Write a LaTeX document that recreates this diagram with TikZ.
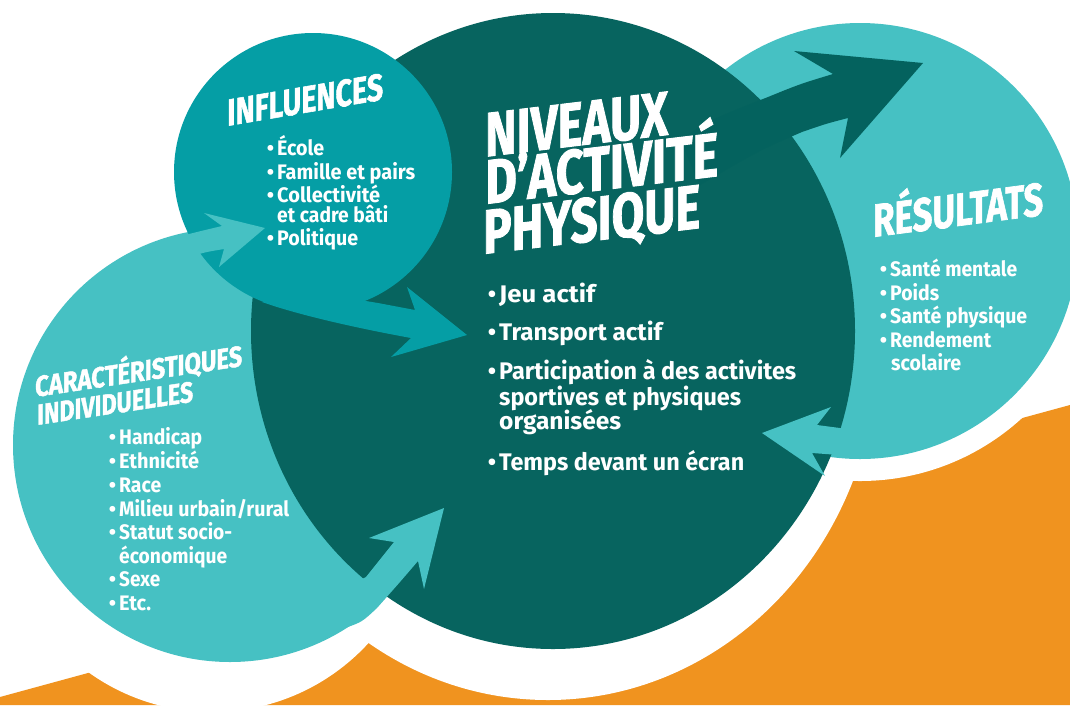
\documentclass[tikz,border=0pt]{standalone}
\usepackage{fontspec}
\usepackage{graphicx}
\setmainfont{Fira Sans}
\newfontfamily\bodyf{Fira Sans}[UprightFont=* Bold]
\newfontfamily\headf{Fira Sans}[UprightFont=* Bold, FakeBold=1.5]
\definecolor{orangebg}{HTML}{F0931F}
\definecolor{lightteal}{HTML}{46C1C3}
\definecolor{midteal}{HTML}{059EA5}
\definecolor{darkteal}{HTML}{07645F}
\definecolor{arrowdark}{HTML}{04625E}
\newcommand{\fitw}[2]{\resizebox{#1pt}{\height}{#2}}
\newcommand{\bul}{\makebox[0pt][r]{\textbullet\hspace{3pt}}}
\tikzset{
  hd/.style={anchor=base west, inner sep=0pt, text=white},
  sidetxt/.style={anchor=base west, inner sep=0pt, text=white, font=\bodyf\fontsize{21}{21}\selectfont},
  centxt/.style={anchor=base west, inner sep=0pt, text=white, font=\bodyf\fontsize{24}{24}\selectfont}
}
\begin{document}
\begin{tikzpicture}[x=1pt,y=-1pt]
\useasboundingbox (0,0) rectangle (1070,705);
\clip (0,0) rectangle (1070,705);
\fill[white] (0,0) rectangle (1070,705);
% orange ground
\fill[orangebg] (0,697) -- (1070,405) -- (1070,705) -- (0,705) -- cycle;
% white halos
\fill[white] (212,500) circle[radius=212pt];
\fill[white] (548,345) ellipse[x radius=330pt, y radius=355pt];
\fill[white] (860,241) circle[radius=240pt];
% circles
\fill[lightteal] (230,445) circle[radius=217pt];
\fill[lightteal] (860,241) circle[radius=218pt];
\fill[darkteal] (553,331) ellipse[x radius=302pt, y radius=318pt];
\fill[midteal] (313,172) circle[radius=139pt];
% arrow: individual -> influences
\fill[lightteal] (150,247) .. controls (180,236) .. (222,226) -- (204,213) -- (265,228) -- (219,267) -- (224,249) .. controls (200,253) .. (180,262) -- cycle;
% arrow: influences -> activity
\fill[midteal] (300,290) -- (378,303) -- (415,310) -- (407,287) -- (467,335) -- (391,357) -- (411,338) .. controls (340,325) and (290,312) .. (262,302) -- cycle;
% arrow: individual -> activity
\fill[lightteal] (320,600) -- (366,577) -- (394,542) -- (369,538) -- (444,508) -- (424,589) -- (418,561) .. controls (400,582) .. (377,608) .. controls (362,622) .. (345,628) -- cycle;
% arrow: activity -> results
\fill[arrowdark] (680,140) .. controls (710,120) .. (768,97) .. controls (800,84) .. (833,74) -- (794,51) -- (923,63) -- (840,158) -- (848,118) .. controls (825,124) .. (802,132) .. controls (760,150) .. (700,185) -- cycle;
% arrow: results -> activity
\fill[lightteal] (905,430) .. controls (880,428) .. (855,430) -- (817,425) -- (831,407) -- (762,433) -- (825,476) -- (812,453) .. controls (840,455) and (870,458) .. (905,453) -- cycle;

% titles
\node[hd, font=\headf\fontsize{37.7}{38}\selectfont, yslant=0.17] (inftitle) at (227,126) {\fitw{156}{INFLUENCES}};
\node[hd, font=\headf\fontsize{62.4}{62}\selectfont, yslant=0.12] (niv1) at (485,156.7) {\fitw{183}{NIVEAUX}};
\node[hd, font=\headf\fontsize{62.4}{62}\selectfont, yslant=0.12] (niv2) at (485,204) {\fitw{233}{D’ACTIVITÉ}};
\node[hd, font=\headf\fontsize{62.4}{62}\selectfont, yslant=0.12] (niv3) at (483,254) {\fitw{217}{PHYSIQUE}};
\node[hd, font=\headf\fontsize{29}{29}\selectfont, yslant=0.15] (car1) at (35,397) {\fitw{207}{CARACTÉRISTIQUES}};
\node[hd, font=\headf\fontsize{29}{29}\selectfont, yslant=0.15] (car2) at (37,425) {\fitw{156}{INDIVIDUELLES}};
\node[hd, font=\headf\fontsize{46.4}{46}\selectfont, yslant=0.13] (restitle) at (873,237) {\fitw{170}{RÉSULTATS}};

% influences list
\node[sidetxt] (i1) at (277,155) {\bul\fitw{47}{École}};
\node[sidetxt] (i2) at (277,179) {\bul\fitw{138}{Famille et pairs}};
\node[sidetxt] (i3) at (277,202) {\bul\fitw{103}{Collectivité}};
\node[sidetxt] (i4) at (277,222) {\fitw{111}{et cadre bâti}};
\node[sidetxt] (i5) at (277,245) {\bul\fitw{81}{Politique}};

% individual list
\node[sidetxt] (c1) at (119,444.7) {\bul\fitw{83}{Handicap}};
\node[sidetxt] (c2) at (119,468.7) {\bul\fitw{80}{Ethnicité}};
\node[sidetxt] (c3) at (119,492.7) {\bul\fitw{42}{Race}};
\node[sidetxt] (c4) at (119,516) {\bul\fitw{170}{Milieu urbain/rural}};
\node[sidetxt] (c5) at (119,539) {\bul\fitw{113}{Statut socio-}};
\node[sidetxt] (c6) at (119,563) {\fitw{108}{économique}};
\node[sidetxt] (c7) at (119,586) {\bul\fitw{41}{Sexe}};
\node[sidetxt] (c8) at (119,610) {\bul\fitw{32}{Etc.}};

% results list
\node[sidetxt] (r1) at (890,276) {\bul\fitw{127}{Santé mentale}};
\node[sidetxt] (r2) at (890,300) {\bul\fitw{49}{Poids}};
\node[sidetxt] (r3) at (890,323) {\bul\fitw{137}{Santé physique}};
\node[sidetxt] (r4) at (890,347) {\bul\fitw{101}{Rendement}};
\node[sidetxt] (r5) at (891,370) {\fitw{70}{scolaire}};

% activity list
\node[centxt] (a1) at (499,302) {\bul\fitw{96}{Jeu actif}};
\node[centxt] (a2) at (499,340) {\bul\fitw{163}{Transport actif}};
\node[centxt] (a3) at (499,379) {\bul\fitw{297}{Participation à des activites}};
\node[centxt] (a4) at (499,405) {\fitw{242}{sportives et physiques}};
\node[centxt] (a5) at (499,429) {\fitw{122}{organisées}};
\node[centxt] (a6) at (499,470) {\bul\fitw{245}{Temps devant un écran}};
\end{tikzpicture}
\end{document}
